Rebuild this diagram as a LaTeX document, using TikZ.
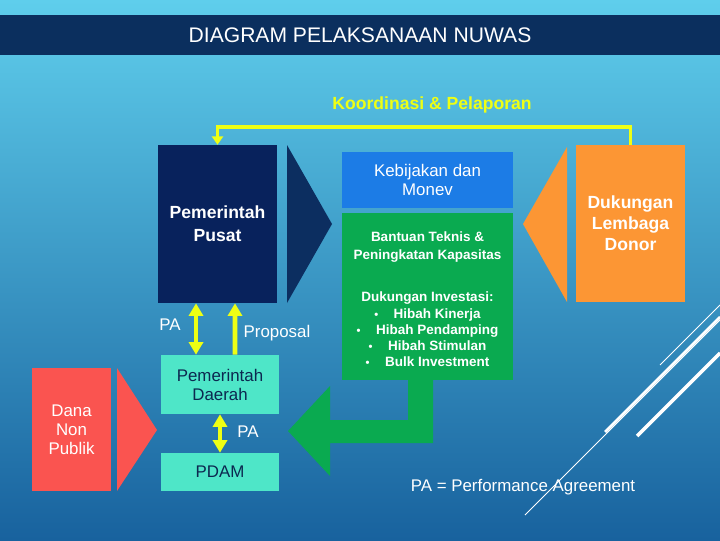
\documentclass[tikz,border=0pt]{standalone}
\usepackage{fontspec}
\setmainfont{Liberation Sans}
\usetikzlibrary{arrows.meta,calc}

\definecolor{bgtop}{RGB}{95,206,236}
\definecolor{bgbot}{RGB}{24,98,158}
\definecolor{titlenavy}{RGB}{11,47,94}
\definecolor{pusatnavy}{RGB}{8,34,92}
\definecolor{trinavy}{RGB}{12,46,96}
\definecolor{monevblue}{RGB}{28,124,230}
\definecolor{bantekgreen}{RGB}{10,170,80}
\definecolor{donororange}{RGB}{252,150,52}
\definecolor{dnpred}{RGB}{250,84,80}
\definecolor{pemdaaqua}{RGB}{78,230,200}
\definecolor{arrowyellow}{RGB}{238,255,20}
\definecolor{textnavy}{RGB}{12,40,80}

\newcommand{\blt}{{\fontsize{8}{8}\selectfont\textbullet}\hspace{11pt}}

\tikzset{
  box/.style={inner sep=0pt, align=center, text=white},
  lbl/.style={inner sep=0pt, text=white, font=\fontsize{12}{13.5}\selectfont},
  yarrow/.style={line width=3.5pt, arrowyellow},
  ytip/.style={-{Triangle[width=10pt,length=9pt]}},
  ydbl/.style={{Triangle[width=10pt,length=9pt]}-{Triangle[width=10pt,length=9pt]}},
}

\begin{document}
\begin{tikzpicture}[x=0.025cm, y=-0.025cm]
    \useasboundingbox (0,0) rectangle (720,540);
    \shade[top color=bgtop, bottom color=bgbot] (0,0) rectangle (720,540);

    % deco lines
    \draw[white, line width=0.7pt] (660,365) -- (720,305);
    \draw[white, line width=2pt] (605,432) -- (720,317);
    \draw[white, line width=0.6pt] (525,515) -- (720,320);
    \draw[white, line width=2.5pt] (637,436) -- (720,353);

    \node(title)[fill=titlenavy, minimum width=18cm, minimum height=1cm, inner sep=0pt, text=white, font=\fontsize{15}{18}\selectfont] at (360,35) {DIAGRAM PELAKSANAAN NUWAS};

    %%%%%%%%%%%%%%%%%%%%%%%%%%%%%%%%%%%%%%%%%%%%%%%%%%%%%%

    \node(pusat)[box, fill=pusatnavy, minimum width=2.975cm, minimum height=3.95cm, font=\fontsize{12.5}{16.3}\selectfont\bfseries] at (217.5,224) {Pemerintah\\Pusat};
    \fill[trinavy] (287,145) -- (332,224) -- (287,303) -- cycle;

    \node(monev)[box, fill=monevblue, minimum width=4.275cm, minimum height=1.4cm, font=\fontsize{12}{13.5}\selectfont] at (427.5,180) {Kebijakan dan\\Monev};

    % green box + arrow
    \node(bantek)[fill=bantekgreen, minimum width=4.275cm, minimum height=4.175cm, inner sep=0pt] at (427.5,296.5) {};
    \fill[bantekgreen] (408,378) -- (433,378) -- (433,443) -- (330,443) -- (330,476) -- (288,431) -- (330,386) -- (330,420) -- (408,420) -- cycle;
    \node(tekkap)[box, font=\fontsize{9.6}{12.8}\selectfont\bfseries] at (427.5,247) {Bantuan Teknis \&\\Peningkatan Kapasitas};
    \node(investasi)[box, font=\fontsize{9.6}{11.5}\selectfont\bfseries] at (427.5,329.5) {Dukungan Investasi:\\\blt Hibah Kinerja\\\blt Hibah Pendamping\\\blt Hibah Stimulan\\\blt Bulk Investment};

    \fill[donororange] (567,147) -- (523,224) -- (567,302) -- cycle;
    \node(donor)[box, fill=donororange, minimum width=2.725cm, minimum height=3.925cm, font=\fontsize{12.5}{14.9}\selectfont\bfseries] at (630.5,223.5) {Dukungan\\Lembaga\\Donor};

    %%%%%%%%%%%%%%%%%%%%%%%%%%%%%%%%%%%%%%%%%%%%%%%%%%%%%%

    \node(pemda)[box, fill=pemdaaqua, text=textnavy, minimum width=2.95cm, minimum height=1.475cm, font=\fontsize{12}{13.5}\selectfont] at (220,384.5) {Pemerintah\\Daerah};
    \node(pdam)[box, fill=pemdaaqua, text=textnavy, minimum width=2.95cm, minimum height=0.95cm, font=\fontsize{12}{13.5}\selectfont] at (220,472) {PDAM};

    \node(dnp)[box, fill=dnpred, minimum width=1.975cm, minimum height=3.075cm, font=\fontsize{12}{13.5}\selectfont] at (71.5,429.5) {Dana\\Non\\Publik};
    \fill[dnpred] (117,368) -- (157,430) -- (117,491) -- cycle;

    %%%%%%%%%%%%%%%%%%%%%%%%%%%%%%%%%%%%%%%%%%%%%%%%%%%%%%

    \node(koord)[inner sep=0pt, text=arrowyellow, font=\fontsize{12.5}{15}\selectfont\bfseries] at (432,105) {Koordinasi \& Pelaporan};
    \draw[arrowyellow, line width=2.8pt, -{Triangle[width=8pt,length=6pt]}] (donor.north) -- ++(0,-18) -| (pusat.north);

    \draw[yarrow, ydbl] ($(pusat.south)+(-21.5,0)$) -- ($(pemda.north)+(-24,0)$);
    \draw[yarrow, ytip] ($(pemda.north)+(15,0)$) -- ($(pusat.south)+(17.5,0)$);
    \draw[yarrow, ydbl] (pemda.south) -- (pdam.north);

    \node(papusat)[lbl] at (170,325) {PA};
    \node(prop)[lbl] at (277,333) {Proposal};
    \node(papdam)[lbl] at (248,432) {PA};
    \node(paket)[lbl] at (523,487) {PA = Performance Agreement};
\end{tikzpicture}
\end{document}
